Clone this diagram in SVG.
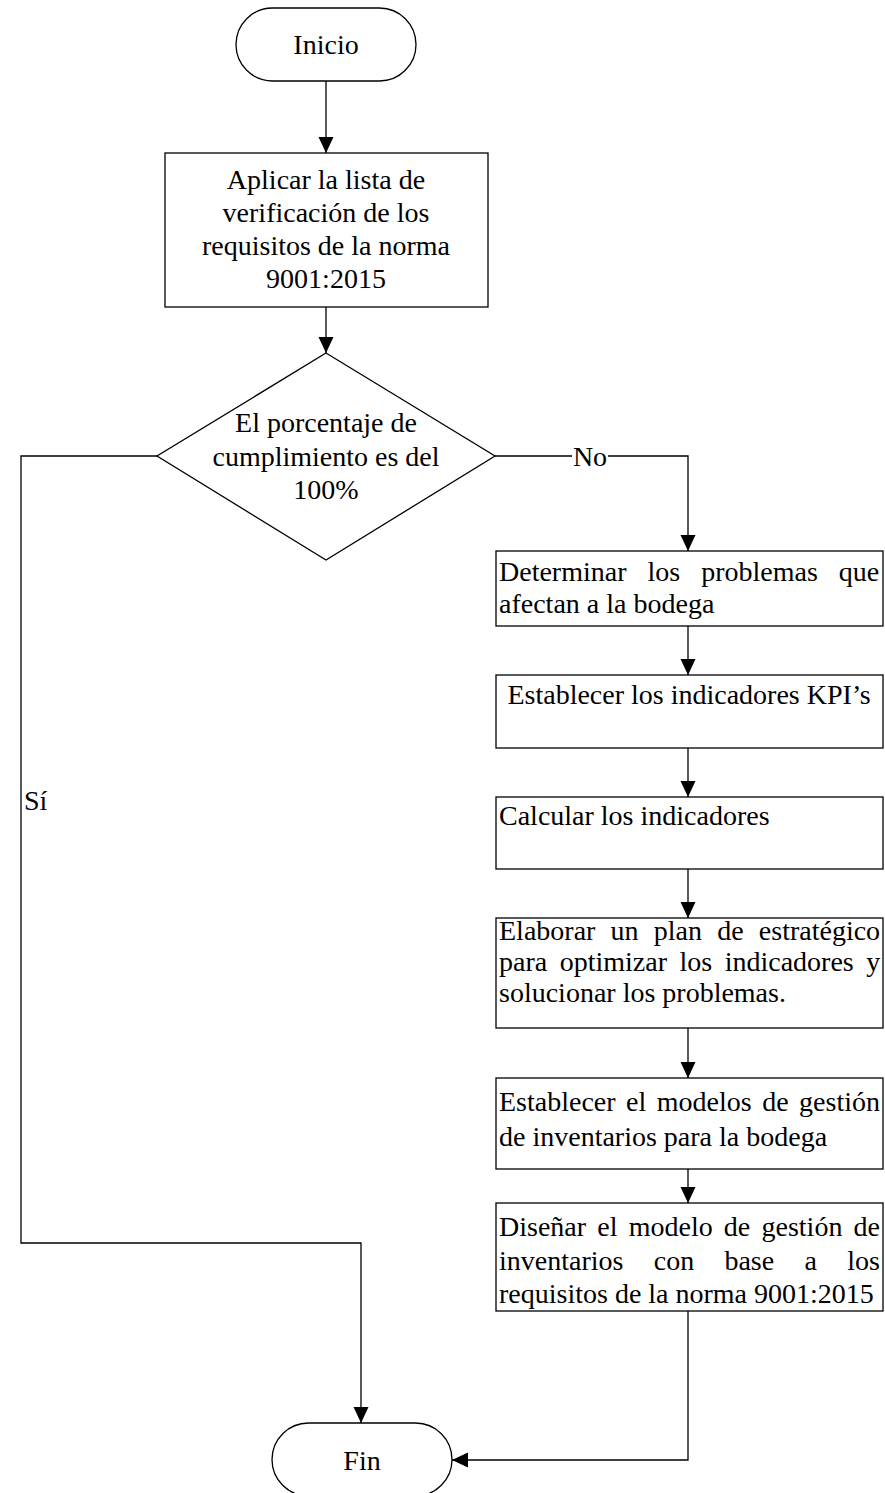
<svg xmlns="http://www.w3.org/2000/svg" width="885" height="1493" viewBox="0 0 885 1493">
  <style>
    .shape { fill: #ffffff; stroke: #000000; stroke-width: 1.3; }
    .wire { fill: none; stroke: #000000; stroke-width: 1.3; }
    .t { font-family: "Liberation Serif", "Times New Roman", serif; font-size: 28px; fill: #000000; }
    .c { text-anchor: middle; }
  </style>
  <defs>
    <marker id="arrow" markerUnits="userSpaceOnUse" markerWidth="16" markerHeight="16" viewBox="0 0 16 16" refX="16" refY="8" orient="auto">
      <path d="M0,0.5 L16,8 L0,15.5 Z" fill="#000000"/>
    </marker>
  </defs>

  <rect width="885" height="1493" fill="#ffffff"/>

  <!-- connectors -->
  <g id="connectors">
    <path class="wire" d="M326,81 V153" marker-end="url(#arrow)"/>
    <path class="wire" d="M326,307 V353" marker-end="url(#arrow)"/>
    <path class="wire" d="M495,456 H688 V551" marker-end="url(#arrow)"/>
    <path class="wire" d="M157,456 H21 V1243 H361 V1423" marker-end="url(#arrow)"/>
    <path class="wire" d="M688,626 V675" marker-end="url(#arrow)"/>
    <path class="wire" d="M688,748 V797" marker-end="url(#arrow)"/>
    <path class="wire" d="M688,869 V918" marker-end="url(#arrow)"/>
    <path class="wire" d="M688,1028 V1078" marker-end="url(#arrow)"/>
    <path class="wire" d="M688,1169 V1203" marker-end="url(#arrow)"/>
    <path class="wire" d="M688,1311 V1460 H452" marker-end="url(#arrow)"/>
    <!-- branch labels -->
    <rect x="572" y="444" width="36" height="24" fill="#ffffff"/>
    <text class="t c" x="590" y="466">No</text>
    <text class="t" x="24" y="810">Sí</text>
  </g>

  <g id="start">
    <rect class="shape" x="236" y="8" width="180" height="73" rx="36.5" ry="36.5"/>
    <text class="t c" x="326" y="54">Inicio</text>
  </g>

  <g id="checklist">
    <rect class="shape" x="165" y="153" width="323" height="154"/>
    <text class="t c" x="326" y="189">Aplicar la lista de</text>
    <text class="t c" x="326" y="222">verificación de los</text>
    <text class="t c" x="326" y="255">requisitos de la norma</text>
    <text class="t c" x="326" y="288">9001:2015</text>
  </g>

  <g id="decision">
    <polygon class="shape" points="326,353 495,456 326,560 157,456"/>
    <text class="t c" x="326" y="432">El porcentaje de</text>
    <text class="t c" x="326" y="466">cumplimiento es del</text>
    <text class="t c" x="326" y="499">100%</text>
  </g>

  <!-- justified lines use word-spacing to reach the right edge of the box -->
  <g id="problems">
    <rect class="shape" x="496" y="551" width="387" height="75"/>
    <text class="t" x="499" y="581" word-spacing="14">Determinar los problemas que</text>
    <text class="t" x="499" y="613">afectan a la bodega</text>
  </g>

  <g id="kpis">
    <rect class="shape" x="496" y="675" width="387" height="73"/>
    <text class="t c" x="689" y="704">Establecer los indicadores KPI’s</text>
  </g>

  <g id="calculate">
    <rect class="shape" x="496" y="797" width="387" height="72"/>
    <text class="t" x="499" y="825">Calcular los indicadores</text>
  </g>

  <g id="plan">
    <rect class="shape" x="496" y="918" width="387" height="110"/>
    <text class="t" x="499" y="940" word-spacing="8.2">Elaborar un plan de estratégico</text>
    <text class="t" x="499" y="971" word-spacing="5.5">para optimizar los indicadores y</text>
    <text class="t" x="499" y="1002">solucionar los problemas.</text>
  </g>

  <g id="inventory-model">
    <rect class="shape" x="496" y="1078" width="387" height="91"/>
    <text class="t" x="499" y="1111" word-spacing="3.5">Establecer el modelos de gestión</text>
    <text class="t" x="499" y="1146">de inventarios para la bodega</text>
  </g>

  <g id="design">
    <rect class="shape" x="496" y="1203" width="387" height="108"/>
    <text class="t" x="499" y="1236" word-spacing="4.2">Diseñar el modelo de gestión de</text>
    <text class="t" x="499" y="1270" word-spacing="23.3">inventarios con base a los</text>
    <text class="t" x="499" y="1303">requisitos de la norma 9001:2015</text>
  </g>

  <g id="end">
    <rect class="shape" x="272" y="1423" width="180" height="73" rx="36.5" ry="36.5"/>
    <text class="t c" x="362" y="1470">Fin</text>
  </g>
</svg>
